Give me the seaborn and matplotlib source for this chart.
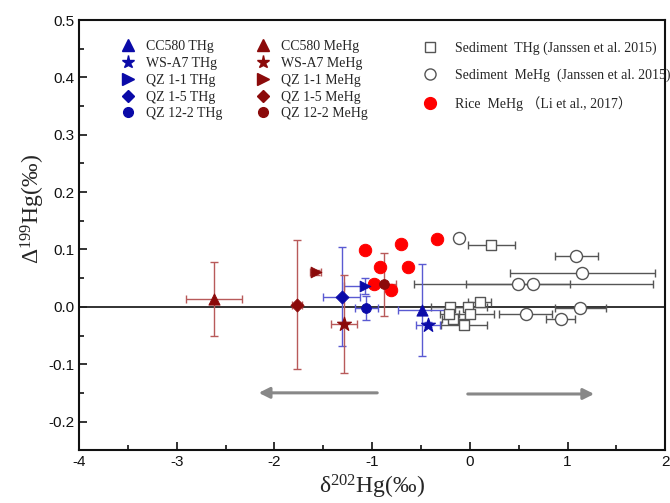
"""Hg isotope plot: Delta199Hg vs delta202Hg for sample THg/MeHg, sediment and rice."""

import matplotlib
matplotlib.use('Agg')
import matplotlib.pyplot as plt
from matplotlib.lines import Line2D
from matplotlib.ticker import MultipleLocator
import seaborn as sns


# Proben (THg blau, MeHg dunkelrot)
SAMPLES = ['CC580', 'WS-A7', 'QZ 1-1', 'QZ 1-5', 'QZ 12-2']
MARKERS = ['^', '*', '>', 'D', 'o']

THG_X = [-0.49, -0.43, -1.07, -1.31, -1.06]
THG_Y = [-0.005, -0.031, 0.037, 0.018, -0.002]
THG_XERR = [0.25, 0.12, 0.22, 0.19, 0.12]
THG_YERR = [0.080, 0.005, 0.014, 0.087, 0.021]

MEHG_X = [-2.62, -1.29, -1.58, -1.77, -0.88]
MEHG_Y = [0.014, -0.030, 0.060, 0.004, 0.039]
MEHG_XERR = [0.29, 0.13, 0.06, 0.05, 0.12]
MEHG_YERR = [0.064, 0.085, 0.005, 0.113, 0.055]

# Literaturdaten
SED_THG_X = [0.22, 0.10, -0.02, -0.20, 0.00, -0.17, -0.06, -0.21]
SED_THG_Y = [0.108, 0.009, -0.001, -0.001, -0.012, -0.021, -0.031, -0.012]
SED_THG_XERR = [0.24, 0.12, 0.20, 0.20, 0.25, 0.12, 0.24, 0.10]

SED_MEHG_X = [-0.11, 1.09, 1.15, 0.49, 0.65, 1.13, 0.57, 0.93]
SED_MEHG_Y = [0.120, 0.089, 0.059, 0.040, 0.040, -0.002, -0.012, -0.021]
SED_MEHG_XERR = [0.0, 0.22, 0.74, 0.53, 1.22, 0.26, 0.27, 0.15]

RICE_X = [-1.07, -0.70, -0.34, -0.92, -0.63, -0.98, -0.81]
RICE_Y = [0.099, 0.110, 0.119, 0.070, 0.069, 0.040, 0.030]

BLUE = '#0a0aa8'
BLUE_ERR = '#5a5ad2'
DARKRED = '#8b0a0a'
RED_ERR = '#b85a5a'
GREY = '#555555'

SERIF = ['Liberation Serif', 'Noto Sans CJK SC']
SIZES = {'^': 65, '*': 110, '>': 60, 'D': 45, 'o': 50}

sns.set_style('white')
plt.rcParams['font.family'] = ['Liberation Sans', 'DejaVu Sans']
plt.rcParams['mathtext.fontset'] = 'custom'
plt.rcParams['mathtext.rm'] = 'Liberation Serif'
plt.rcParams['mathtext.default'] = 'regular'

fig = plt.figure(figsize=(6.7, 5.03), dpi=100)
ax = fig.add_axes([0.118, 0.105, 0.875, 0.855])

ax.axhline(0, color='#222222', lw=1.3, zorder=1)

# Fehlerbalken
ebkw = dict(fmt='none', capsize=3.2, elinewidth=1.0, capthick=1.0, zorder=2)
ax.errorbar(SED_THG_X, SED_THG_Y, xerr=SED_THG_XERR, ecolor=GREY, **ebkw)
ax.errorbar(SED_MEHG_X, SED_MEHG_Y, xerr=SED_MEHG_XERR, ecolor=GREY, **ebkw)
ax.errorbar(THG_X, THG_Y, xerr=THG_XERR, yerr=THG_YERR, ecolor=BLUE_ERR, **ebkw)
ax.errorbar(MEHG_X, MEHG_Y, xerr=MEHG_XERR, yerr=MEHG_YERR, ecolor=RED_ERR, **ebkw)

# Punkte
sns.scatterplot(x=SED_THG_X, y=SED_THG_Y, marker='s', s=55, facecolor='white',
                edgecolor=GREY, linewidth=1.0, ax=ax, zorder=3)
sns.scatterplot(x=SED_MEHG_X, y=SED_MEHG_Y, marker='o', s=75, facecolor='white',
                edgecolor=GREY, linewidth=1.0, ax=ax, zorder=3)
sns.scatterplot(x=RICE_X, y=RICE_Y, marker='o', s=80, color='#ff0000',
                edgecolor='#ff0000', ax=ax, zorder=4)
for i, m in enumerate(MARKERS):
    sns.scatterplot(x=[THG_X[i]], y=[THG_Y[i]], marker=m, s=SIZES[m], color=BLUE,
                    edgecolor=BLUE, ax=ax, zorder=5)
    sns.scatterplot(x=[MEHG_X[i]], y=[MEHG_Y[i]], marker=m, s=SIZES[m], color=DARKRED,
                    edgecolor=DARKRED, ax=ax, zorder=5)

# Pfeile
arrow = dict(arrowstyle='-|>', color='#888888', lw=2.2, mutation_scale=16)
ax.annotate('', xy=(-2.19, -0.150), xytext=(-0.92, -0.150), arrowprops=arrow)
ax.annotate('', xy=(1.30, -0.152), xytext=(-0.05, -0.152), arrowprops=arrow)

ax.set_xlim(-4, 2)
ax.set_ylim(-0.25, 0.5)
ax.xaxis.set_major_locator(MultipleLocator(1))
ax.xaxis.set_minor_locator(MultipleLocator(0.5))
ax.yaxis.set_major_locator(MultipleLocator(0.1))
ax.yaxis.set_minor_locator(MultipleLocator(0.05))
ax.yaxis.set_major_formatter(lambda v, p: f'{v:.1f}')
ax.xaxis.set_major_formatter(lambda v, p: f'{v:.0f}')
ax.tick_params(which='both', direction='in', left=True, bottom=True,
               colors='#111111', labelsize=11, width=1.2)
ax.tick_params(which='major', length=6)
ax.tick_params(which='minor', length=3.5)
for sp in ax.spines.values():
    sp.set_color('#111111')
    sp.set_linewidth(1.5)

ax.set_xlabel('δ$^{202}$Hg(‰)', family=SERIF, fontsize=17, labelpad=3)
ax.set_ylabel('Δ$^{199}$Hg(‰)', family=SERIF, fontsize=17)
ax.yaxis.set_label_coords(-0.055, 0.56)

# Legende Proben
handles = []
labels = []
for color, kind in [(BLUE, 'THg'), (DARKRED, 'MeHg')]:
    for name, m in zip(SAMPLES, MARKERS):
        ms = {'^': 8, '*': 9.5, '>': 8, 'D': 6.5, 'o': 7}[m]
        handles.append(Line2D([], [], ls='none', marker=m, color=color, ms=ms))
        labels.append(f'{name} {kind}')
leg1 = ax.legend(handles, labels, ncol=2, loc='upper left', bbox_to_anchor=(0.071, 0.953),
                 frameon=False, prop={'family': SERIF, 'size': 10}, handlelength=1.0,
                 handletextpad=0.8, labelspacing=0.27, columnspacing=2.45,
                 borderpad=0, borderaxespad=0)
ax.add_artist(leg1)

# Legende Literatur
h2 = [Line2D([], [], ls='none', marker='s', mfc='white', mec=GREY, ms=7),
      Line2D([], [], ls='none', marker='o', mfc='white', mec=GREY, ms=8),
      Line2D([], [], ls='none', marker='o', color='#ff0000', ms=8.5)]
l2 = ['Sediment  THg (Janssen et al. 2015)',
      'Sediment  MeHg  (Janssen et al. 2015)',
      'Rice  MeHg （Li et al., 2017）']
ax.legend(h2, l2, loc='upper left', bbox_to_anchor=(0.587, 0.95), frameon=False,
          prop={'family': SERIF, 'size': 10}, handlelength=1.0, handletextpad=1.3,
          labelspacing=1.0, borderpad=0, borderaxespad=0)

fig.savefig('out.png', dpi=100)
